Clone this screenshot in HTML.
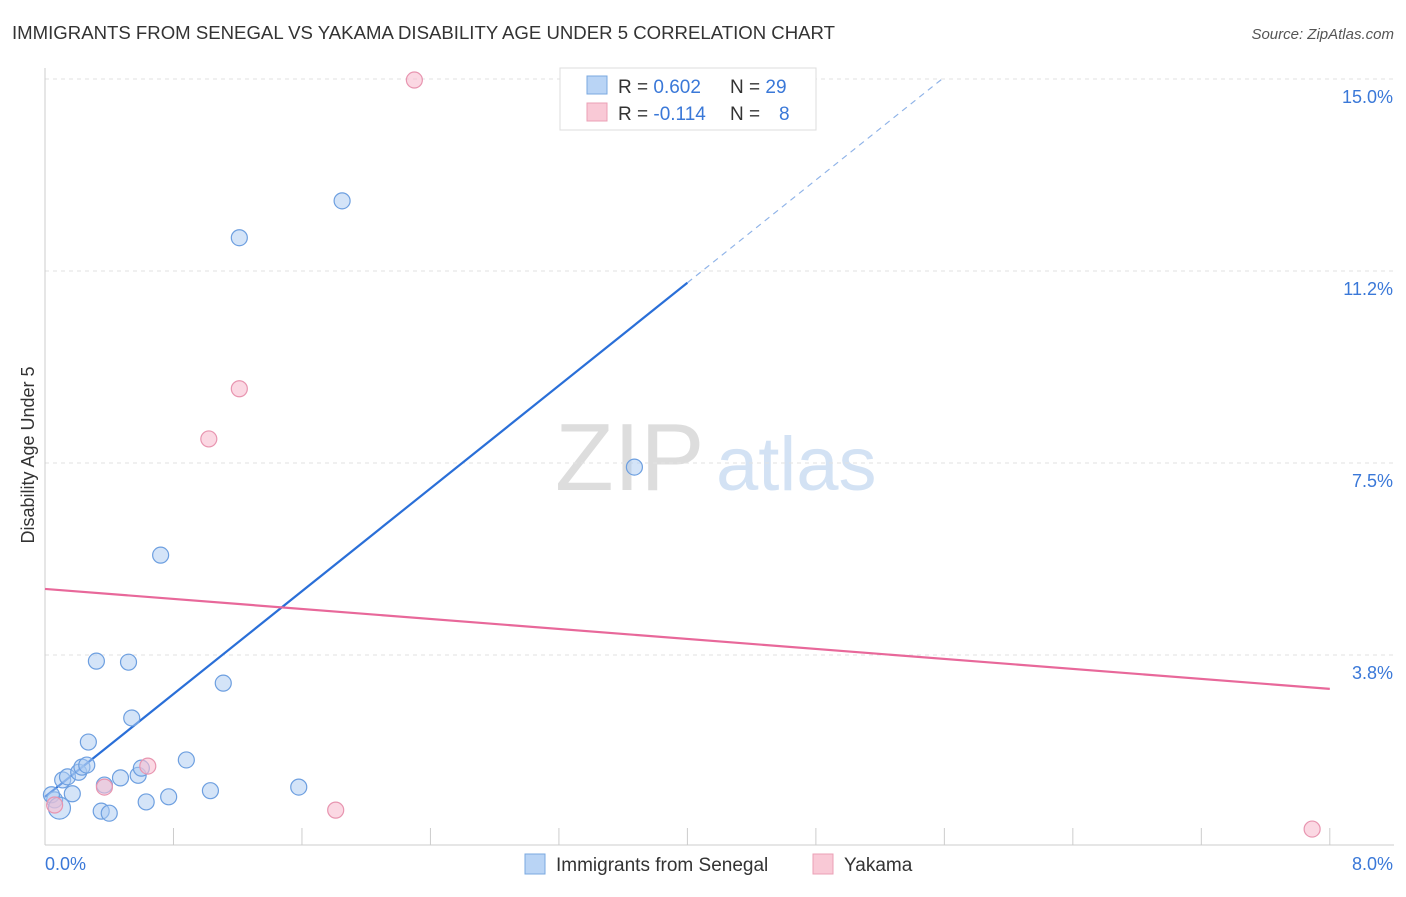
<!DOCTYPE html>
<html><head><meta charset="utf-8"><style>
body{margin:0;background:#fff;font-family:"Liberation Sans",sans-serif;}
svg text{font-family:"Liberation Sans",sans-serif;}
</style></head><body>
<svg id="chart" width="1406" height="892">
<text x="12" y="39" font-size="18" fill="#333" textLength="823" lengthAdjust="spacingAndGlyphs">IMMIGRANTS FROM SENEGAL VS YAKAMA DISABILITY AGE UNDER 5 CORRELATION CHART</text>
<text x="1394" y="39" font-size="15" fill="#555" text-anchor="end" font-style="italic">Source: ZipAtlas.com</text>
<g>
<text x="555" y="490" font-size="96" fill="#ddd" font-family="Liberation Serif">ZIP</text>
<text x="716" y="490" font-size="76" fill="#d3e2f4">atlas</text>
</g>
<g id="grid"></g><g id="axes"></g><g id="lines"></g><g id="pts"></g>
<text transform="translate(34,455) rotate(-90)" font-size="18" fill="#333" text-anchor="middle">Disability Age Under 5</text>
<g>
<rect x="560" y="68" width="256" height="62" fill="#fff" stroke="#ddd"/>
<rect x="587" y="76" width="20" height="18" fill="#b9d4f5" stroke="#7aa8e0"/>
<rect x="587" y="103" width="20" height="18" fill="#f9c9d6" stroke="#eba0b6"/>
<text x="618" y="93" font-size="19" fill="#333">R = <tspan fill="#3a78d8">0.602</tspan><tspan x="730">N = </tspan><tspan fill="#3a78d8">29</tspan></text>
<text x="618" y="120" font-size="19" fill="#333">R = <tspan fill="#3a78d8">-0.114</tspan><tspan x="730">N = </tspan><tspan x="779" fill="#3a78d8">8</tspan></text>
</g>
<g>
<rect x="525" y="854" width="20" height="20" fill="#b9d4f5" stroke="#7aa8e0"/>
<text x="556" y="871" font-size="19" fill="#333">Immigrants from Senegal</text>
<rect x="813" y="854" width="20" height="20" fill="#f9c9d6" stroke="#eba0b6"/>
<text x="844" y="871" font-size="19" fill="#333">Yakama</text>
</g>
</svg>
<script>
const blueX=[0.06,0.04,0.09,0.11,0.14,0.17,0.21,0.23,0.26,0.27,0.32,0.35,0.40,0.37,0.47,0.52,0.54,0.58,0.60,0.63,0.72,0.77,0.88,1.03,1.11,1.21,1.58,1.85,3.67];
const blueY=[0.92,1.02,0.76,1.31,1.37,1.04,1.46,1.56,1.60,2.05,3.63,0.70,0.66,1.21,1.35,3.61,2.52,1.40,1.54,0.88,5.70,0.98,1.70,1.10,3.20,11.9,1.17,12.62,7.42];
const pinkX=[0.06,0.37,0.64,1.02,1.21,1.81,2.30,7.89];
const pinkY=[0.82,1.17,1.58,7.97,8.95,0.72,14.98,0.35];
const blueLine=[0.98,2.51];
const pinkLine=[5.04,-0.244];
const yTicks=[3.75,7.5,11.25,15];
const yTickLabels=["3.8%","7.5%","11.2%","15.0%"];
const xTicks=[0,0.8,1.6,2.4,3.2,4.0,4.8,5.6,6.4,7.2,8.0];
const NS="http://www.w3.org/2000/svg";
const X=v=>45+v*160.6, Y=v=>847-v*51.2;
function mk(p,t,a){const e=document.createElementNS(NS,t);for(const k in a)e.setAttribute(k,a[k]);p.appendChild(e);return e;}
const grid=document.getElementById('grid'),axes=document.getElementById('axes'),lines=document.getElementById('lines'),pts=document.getElementById('pts');
yTicks.forEach((t,i)=>{
 const l=mk(grid,'line',{x1:45,x2:1394,y1:Y(t),y2:Y(t),stroke:'#e2e2e2','stroke-dasharray':'4,4'});
 
 
 const tx=mk(axes,'text',{x:1393,y:Y(t)+24,'font-size':18,fill:'#3a78d8','text-anchor':'end'});
 tx.textContent=yTickLabels[i];
 
 
});
const ax=mk(axes,'line',{x1:45,x2:1394,y1:845,y2:845,stroke:'#ccc'});


const ay=mk(axes,'line',{x1:45,x2:45,y1:68,y2:845,stroke:'#ccc'});


xTicks.forEach(t=>{
 const l=mk(axes,'line',{x1:X(t),x2:X(t),y1:828,y2:845,stroke:'#ccc'});
 
 
});
[["0.0%",45,'start'],["8.0%",1393,'end']].forEach(([s,x,a])=>{
 const t=mk(axes,'text',{x:x,y:870,'font-size':18,fill:'#3a78d8','text-anchor':a});
 t.textContent=s;
 
 
});
const bl=v=>blueLine[0]+blueLine[1]*v, pl=v=>pinkLine[0]+pinkLine[1]*v;
const b1=mk(lines,'line',{x1:X(0),y1:Y(bl(0)),x2:X(4.0),y2:Y(bl(4.0)),stroke:'#2a6fd8','stroke-width':2.2});


const xe=(15.0-blueLine[0])/blueLine[1];
const b2=mk(lines,'line',{x1:X(4.0),y1:Y(bl(4.0)),x2:X(xe),y2:Y(bl(xe)),stroke:'#8fb3e8','stroke-width':1.2,'stroke-dasharray':'6,5'});


const p1=mk(lines,'line',{x1:X(0),y1:Y(pl(0)),x2:X(8),y2:Y(pl(8)),stroke:'#e8689a','stroke-width':2.2});


blueX.forEach((x,i)=>{
 const c=mk(pts,'circle',{cx:X(x),cy:Y(blueY[i]),r:i==2?11:8,fill:'rgba(170,202,242,0.5)',stroke:'#6d9fe0','stroke-width':1.2});
 
 
});
pinkX.forEach((x,i)=>{
 const c=mk(pts,'circle',{cx:X(x),cy:Y(pinkY[i]),r:8,fill:'rgba(248,190,208,0.6)',stroke:'#e895b0','stroke-width':1.2});
 
 
});
</script>
</body></html>
